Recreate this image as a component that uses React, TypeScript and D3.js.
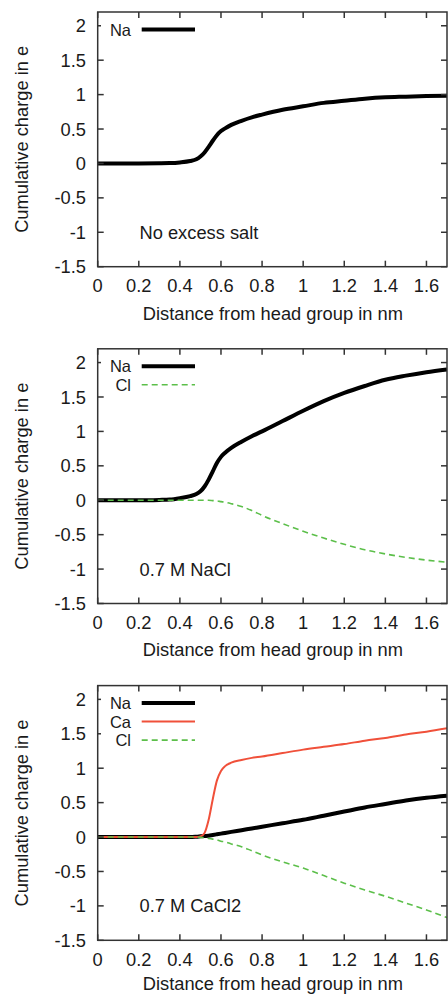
import React from "react";
import * as d3 from "d3";

const distance = [0, 0.1, 0.2, 0.3, 0.35, 0.4, 0.45, 0.48, 0.5, 0.52, 0.54, 0.56, 0.58, 0.6, 0.62, 0.65, 0.7, 0.75, 0.8, 0.9, 1.0, 1.1, 1.2, 1.3, 1.4, 1.5, 1.6, 1.7];

const noSaltNa = [0, 0, 0, 0.002, 0.005, 0.015, 0.035, 0.06, 0.1, 0.16, 0.24, 0.33, 0.41, 0.47, 0.51, 0.56, 0.62, 0.67, 0.71, 0.78, 0.83, 0.88, 0.91, 0.94, 0.96, 0.97, 0.98, 0.985];

const naclNa = [0, 0, 0, 0.005, 0.01, 0.03, 0.06, 0.09, 0.13, 0.2, 0.3, 0.42, 0.54, 0.63, 0.69, 0.76, 0.85, 0.93, 1.0, 1.15, 1.3, 1.44, 1.56, 1.66, 1.75, 1.81, 1.86, 1.9];
const naclCl = [0, 0, 0, 0, 0, 0, 0, 0, 0, 0, 0, -0.005, -0.01, -0.02, -0.03, -0.05, -0.09, -0.15, -0.22, -0.34, -0.45, -0.55, -0.64, -0.72, -0.78, -0.83, -0.87, -0.9];

const cacl2Na = [0, 0, 0, 0, 0, 0, 0, 0.005, 0.01, 0.015, 0.02, 0.03, 0.04, 0.05, 0.06, 0.075, 0.1, 0.125, 0.15, 0.2, 0.25, 0.31, 0.37, 0.43, 0.48, 0.53, 0.57, 0.6];
const cacl2Ca = [0, 0, 0, 0, 0, 0, 0, 0, 0.01, 0.06, 0.25, 0.55, 0.82, 0.96, 1.03, 1.08, 1.12, 1.15, 1.17, 1.22, 1.27, 1.31, 1.35, 1.4, 1.44, 1.49, 1.53, 1.58];
const cacl2Cl = [0, 0, 0, 0, 0, 0, 0, 0, -0.005, -0.01, -0.02, -0.03, -0.04, -0.06, -0.07, -0.1, -0.14, -0.2, -0.26, -0.36, -0.45, -0.56, -0.67, -0.77, -0.86, -0.96, -1.06, -1.17];

const xTicks = [0, 0.2, 0.4, 0.6, 0.8, 1, 1.2, 1.4, 1.6];
const yTicks = [-1.5, -1, -0.5, 0, 0.5, 1, 1.5, 2];

const xTitle = "Distance from head group in nm";
const yTitle = "Cumulative charge in e";

type Series = { name: string; values: number[]; color: string; width: number; dash?: string };

const styleNa = { color: "#000000", width: 4 };
const styleCa = { color: "#f0503a", width: 2 };
const styleCl = { color: "#5cbf4a", width: 1.6, dash: "6,4" };

const panels: { label: string; series: Series[] }[] = [
  { label: "No excess salt", series: [{ name: "Na", values: noSaltNa, ...styleNa }] },
  {
    label: "0.7 M NaCl",
    series: [
      { name: "Na", values: naclNa, ...styleNa },
      { name: "Cl", values: naclCl, ...styleCl },
    ],
  },
  {
    label: "0.7 M CaCl2",
    series: [
      { name: "Na", values: cacl2Na, ...styleNa },
      { name: "Ca", values: cacl2Ca, ...styleCa },
      { name: "Cl", values: cacl2Cl, ...styleCl },
    ],
  },
];

const FONT = "'Liberation Sans', Arial, Helvetica, sans-serif";
const LEFT = 97.7;
const RIGHT = 447;
const TOP = 12;
const BOTTOM = 266.7;
const PANEL_STEP = 336.8;
const TICK = 6;
const AXIS_COLOR = "#333";
const TEXT_COLOR = "#1a1a1a";
const FS = 18.3;
const LEGEND_FS = 16.5;
const LEGEND_STEP = 18.5;

function Panel({ label, series, offset, last }: { label: string; series: Series[]; offset: number; last: boolean }) {
  const x = d3.scaleLinear().domain([0, 1.7]).range([LEFT, RIGHT]);
  const y = d3.scaleLinear().domain([-1.5, 2.2]).range([BOTTOM, TOP]);
  const line = (vals: number[]) =>
    d3
      .line<number>()
      .x((_, i) => x(distance[i]))
      .y((v) => y(v))
      .curve(d3.curveMonotoneX)(vals) || "";
  const clipId = `clip-${Math.round(offset)}`;
  return (
    <g transform={`translate(0,${offset})`}>
      <defs>
        <clipPath id={clipId}>
          <rect x={LEFT} y={TOP} width={RIGHT - LEFT} height={BOTTOM - TOP} />
        </clipPath>
      </defs>
      <g clipPath={`url(#${clipId})`}>
        {series.map((s, k) => (
          <path
            key={k}
            d={line(s.values)}
            fill="none"
            stroke={s.color}
            strokeWidth={s.width}
            strokeDasharray={s.dash}
            strokeLinejoin="round"
          />
        ))}
      </g>
      <rect x={LEFT} y={TOP} width={RIGHT - LEFT} height={BOTTOM - TOP} fill="none" stroke={AXIS_COLOR} strokeWidth={1.5} />
      {xTicks.map((t) => (
        <g key={`xt${t}`}>
          <line x1={x(t)} x2={x(t)} y1={BOTTOM} y2={BOTTOM - TICK} stroke={AXIS_COLOR} strokeWidth={1.5} />
          <line x1={x(t)} x2={x(t)} y1={TOP} y2={TOP + TICK} stroke={AXIS_COLOR} strokeWidth={1.5} />
          <text x={x(t)} y={BOTTOM + 25.5} textAnchor="middle" fontSize={FS} fontFamily={FONT} fill={TEXT_COLOR}>
            {String(t)}
          </text>
        </g>
      ))}
      {yTicks.map((t) => (
        <g key={`yt${t}`}>
          <line x1={LEFT} x2={LEFT + TICK} y1={y(t)} y2={y(t)} stroke={AXIS_COLOR} strokeWidth={1.5} />
          <line x1={RIGHT} x2={RIGHT - TICK} y1={y(t)} y2={y(t)} stroke={AXIS_COLOR} strokeWidth={1.5} />
          <text x={86} y={y(t) + 6.6} textAnchor="end" fontSize={FS} fontFamily={FONT} fill={TEXT_COLOR}>
            {String(t)}
          </text>
        </g>
      ))}
      <text x={(LEFT + RIGHT) / 2 + 0.5} y={BOTTOM + (last ? 49.5 : 53)} textAnchor="middle" fontSize={FS} fontFamily={FONT} fill={TEXT_COLOR}>
        {xTitle}
      </text>
      <text
        transform={`translate(28,${(TOP + BOTTOM) / 2}) rotate(-90)`}
        textAnchor="middle"
        fontSize={FS}
        fontFamily={FONT}
        fill={TEXT_COLOR}
      >
        {yTitle}
      </text>
      <text x={139.5} y={y(-1) + 6.6} fontSize={FS} fontFamily={FONT} fill={TEXT_COLOR}>
        {label}
      </text>
      {series.map((s, k) => {
        const ly = TOP + 17.5 + k * LEGEND_STEP;
        return (
          <g key={`lg${k}`}>
            <rect x={101} y={ly - 8} width={31} height={16} fill="white" />
            <text x={131} y={ly + 6} textAnchor="end" fontSize={LEGEND_FS} fontFamily={FONT} fill={TEXT_COLOR}>
              {s.name}
            </text>
            <line x1={141.7} x2={195} y1={ly} y2={ly} stroke={s.color} strokeWidth={s.width} strokeDasharray={s.dash} />
          </g>
        );
      })}
    </g>
  );
}

export default function App() {
  return (
    <svg width={448} height={994} style={{ position: "absolute", left: 0, top: 0, background: "white" }}>
      <rect x={0} y={0} width={448} height={994} fill="white" />
      {panels.map((p, i) => (
        <Panel key={i} label={p.label} series={p.series} offset={i * PANEL_STEP} last={i === panels.length - 1} />
      ))}
    </svg>
  );
}
